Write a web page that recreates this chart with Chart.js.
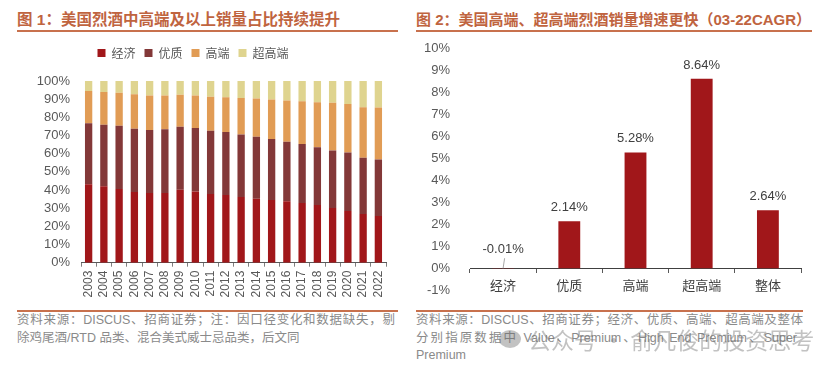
<!DOCTYPE html>
<html>
<head>
<meta charset="utf-8">
<script src="https://cdn.jsdelivr.net/npm/chart.js@4.4.1/dist/chart.umd.min.js"></script>
<style>
  html, body { margin: 0; padding: 0; background: #fff; }
  #wrap { position: relative; width: 833px; height: 370px; overflow: hidden; background: #fff;
          font-family: "Liberation Sans", "Noto Sans CJK SC", sans-serif; }
  .title { position: absolute; top: 9px; font-weight: bold; color: #c0643f; white-space: nowrap;
           line-height: 22px; font-family: "Liberation Sans", "Noto Sans CJK SC", sans-serif; }
  .rule { position: absolute; height: 2px; background: #c8714d; }
  .note { position: absolute; font-size: 12.5px; color: #8a8a8a; line-height: 17.6px; white-space: nowrap; }
  .just { text-align: justify; text-align-last: justify; white-space: normal; }
  canvas { position: absolute; }
  .wm { position: absolute; left: 528px; top: 325px; font-size: 23px; color: rgba(110,110,110,0.42);
        white-space: nowrap; font-family: "Noto Sans CJK SC", sans-serif; line-height: 28px; }
  .wmicon { position: absolute; left: 499px; top: 330px; width: 22px; height: 18px; border-radius: 50%;
            background: rgba(110,110,110,0.42); }
</style>
</head>
<body>
<div id="wrap">
  <div class="title" style="left:17px;font-size:15.5px;">图 1：美国烈酒中高端及以上销量占比持续提升</div>
  <div class="rule" style="left:17px;top:30px;width:381px;"></div>
  <div class="title" style="left:416px;font-size:15px;">图 2：美国高端、超高端烈酒销量增速更快（03-22CAGR）</div>
  <div class="rule" style="left:416px;top:30px;width:396px;"></div>

  <canvas id="c1" width="432" height="272" style="left:0px;top:38px;width:432px;height:272px;"></canvas>
  <canvas id="c2" width="417" height="281" style="left:416px;top:29px;width:417px;height:281px;"></canvas>

  <div class="rule" style="left:17px;top:310px;width:381px;"></div>
  <div class="rule" style="left:416px;top:310px;width:387px;"></div>

  <div class="note just" style="left:17px;top:312px;width:378px;">资料来源：DISCUS、招商证券；注：因口径变化和数据缺失，剔</div>
  <div class="note" style="left:17px;top:329.6px;">除鸡尾酒/RTD 品类、混合美式威士忌品类，后文同</div>

  <div class="note just" style="left:416px;top:312px;width:387px;">资料来源：DISCUS、招商证券；经济、优质、高端、超高端及整体</div>
  <div class="note just" style="left:416px;top:329.6px;width:381px;">分别指原数据中 Value、Premium、High End Premium、Super</div>
  <div class="note" style="left:416px;top:347.2px;">Premium</div>

  <div class="wmicon"></div>
  <div class="wm">公众号 · 俞凡俊的投资思考</div>
</div>

<script>
// ---------- Data: Figure 1 (share of US spirits volume by price tier, %) ----------
const years = ['2003','2004','2005','2006','2007','2008','2009','2010','2011','2012',
               '2013','2014','2015','2016','2017','2018','2019','2020','2021','2022'];
const valueShare   = [43.2,42.1,40.5,38.9,38.3,38.3,40.2,39.2,37.8,37.2,36.1,35.2,34.5,33.8,32.8,31.7,30.1,28.5,26.8,25.7];
const premiumShare = [33.6,33.8,34.9,34.8,34.7,35.2,34.6,34.9,34.8,34.7,34.5,34.1,33.6,32.8,32.5,31.8,31.6,32.1,30.9,31.1];
const highEndShare = [17.7,18.1,18.2,19.0,19.0,18.5,17.7,17.9,18.8,19.2,20.1,21.0,21.7,22.6,23.6,24.8,26.3,26.8,27.9,28.6];
const superShare   = [5.5,6.0,6.4,7.3,8.0,8.0,7.5,8.0,8.6,8.9,9.3,9.7,10.2,10.8,11.1,11.7,12.0,12.6,14.4,14.6];
const tierNames    = ['经济','优质','高端','超高端'];

// ---------- Data: Figure 2 (03-22 CAGR, %) ----------
const cagrCategories = ['经济','优质','高端','超高端','整体'];
const cagrValues     = [-0.01, 2.14, 5.28, 8.64, 2.64];

const FONT = '"Liberation Sans", "Noto Sans CJK SC", sans-serif';
const CJK  = '"Noto Sans CJK SC", "Liberation Sans", sans-serif';
const COL_VALUE = '#a1171a', COL_PREM = '#833838', COL_HIGH = '#e19c55', COL_SUPER = '#dfd48f';

Chart.defaults.font.family = FONT;

const legendGap = {
  id: 'legendGap',
  beforeInit(chart) {
    if (!chart.legend) return;
    const orig = chart.legend.fit;
    chart.legend.fit = function () { orig.call(this); this.height += 12; };
  }
};

new Chart(document.getElementById('c1'), {
  type: 'bar',
  data: {
    labels: years,
    datasets: [
      { label: tierNames[0], data: valueShare,   backgroundColor: COL_VALUE },
      { label: tierNames[1], data: premiumShare, backgroundColor: COL_PREM },
      { label: tierNames[2], data: highEndShare, backgroundColor: COL_HIGH },
      { label: tierNames[3], data: superShare,   backgroundColor: COL_SUPER }
    ]
  },
  options: {
    responsive: false, animation: false,
    layout: { padding: { left: 0, right: 46, top: 0, bottom: 0 } },
    datasets: { bar: { barPercentage: 0.48, categoryPercentage: 1 } },
    plugins: {
      legend: { position: 'top',
        labels: { boxWidth: 8, boxHeight: 8, padding: 9, color: '#595959', font: { size: 12, family: CJK } } },
      tooltip: { enabled: false }
    },
    scales: {
      x: { stacked: true,
           grid: { display: true, drawOnChartArea: false, drawTicks: true, tickLength: 4, color: '#7f7f7f' },
           border: { display: true, color: '#595959' },
           ticks: { autoSkip: false, minRotation: 90, maxRotation: 90, padding: 4, color: '#595959', font: { size: 12 } },
           afterFit(s) { s.height = 47.3; } },
      y: { stacked: true, min: 0, max: 100,
           ticks: { autoSkip: false, stepSize: 10, callback: v => v + '%', padding: 3, color: '#595959', font: { size: 13 } },
           grid: { display: false }, border: { display: false },
           afterFit(s) { s.width = 81; } }
    }
  },
  plugins: [legendGap]
});

const valueLabels = {
  id: 'valueLabels',
  afterDatasetsDraw(chart) {
    const ctx = chart.ctx;
    const meta = chart.getDatasetMeta(0);
    const vals = chart.data.datasets[0].data;
    ctx.save();
    ctx.font = '13px ' + FONT;
    ctx.fillStyle = '#404040';
    ctx.textAlign = 'center';
    ctx.textBaseline = 'middle';
    meta.data.forEach((bar, i) => {
      const v = vals[i];
      const txt = v.toFixed(2) + '%';
      if (v >= 0) {
        ctx.fillText(txt, bar.x, Math.min(bar.y, bar.base) - 13.5);
      } else {
        const ly = bar.base - 19;
        ctx.fillText(txt, bar.x, ly);
        ctx.strokeStyle = '#a6a6a6'; ctx.lineWidth = 1;
        ctx.beginPath(); ctx.moveTo(bar.x + 1.5, ly + 9); ctx.lineTo(bar.x, bar.base); ctx.stroke();
      }
    });
    ctx.restore();
  }
};

new Chart(document.getElementById('c2'), {
  type: 'bar',
  data: {
    labels: cagrCategories,
    datasets: [{ data: cagrValues, backgroundColor: COL_VALUE, barPercentage: 0.33, categoryPercentage: 1 }]
  },
  options: {
    responsive: false, animation: false,
    layout: { padding: { left: 0, right: 32, top: 11, bottom: 1.8 } },
    plugins: { legend: { display: false }, tooltip: { enabled: false } },
    scales: {
      x: { position: { y: 0 },
           grid: { display: true, drawOnChartArea: false, drawTicks: true, tickLength: 4, color: '#595959' },
           border: { display: true, color: '#404040' },
           ticks: { padding: 5, color: '#404040', font: { size: 13, family: CJK } },
           afterFit(s) { s.height = 10; } },
      y: { min: -1, max: 10,
           ticks: { autoSkip: false, stepSize: 1, callback: v => v + '%', padding: 12, color: '#595959', font: { size: 13 } },
           grid: { display: false }, border: { display: false },
           afterFit(s) { s.width = 54; } }
    }
  },
  plugins: [valueLabels]
});
</script>
</body>
</html>
